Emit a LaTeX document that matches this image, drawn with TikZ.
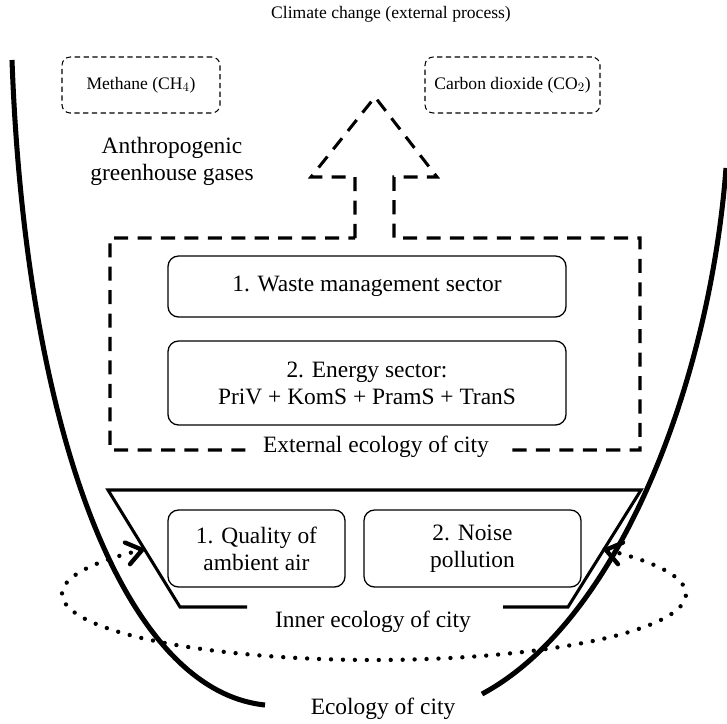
\documentclass[tikz,border=0pt]{standalone}
\usepackage{fontspec}
\setmainfont{Liberation Serif}
\usetikzlibrary{arrows.meta}

\begin{document}
\begin{tikzpicture}[x=0.03cm, y=-0.03cm, font=\fontsize{20}{23}\selectfont, small/.style={font=\fontsize{15}{18}\selectfont}, gas/.style={small, draw, dash pattern=on 4.5pt off 3pt, line width=0.9pt, rounded corners=7pt, minimum height=1.68cm}, sector/.style={draw, line width=1.1pt, rounded corners=9pt, align=center, minimum height=2.52cm}, frame/.style={line width=2.6pt, dash pattern=on 12pt off 8pt}, city/.style={line width=4.3pt}, cycle/.style={line width=3.7pt, line cap=round, dash pattern=on 0pt off 10.2pt, {Straight Barb[length=13pt,width=19pt,line cap=round]}-{Straight Barb[length=13pt,width=19pt,line cap=round]}}, note/.style={align=center, inner sep=1pt}]

\useasboundingbox (0,0) rectangle (727,723);
\node[note, small] (climate) at (391,14) {Climate change (external process)};
\node[gas, minimum width=4.74cm] (ch4) at (141,85) {Methane (CH$_4$)}; \node[gas, minimum width=5.25cm] (co2) at (512.5,85) {Carbon dioxide (CO$_2$)};
\node[note] (ghg) at (172,161) {Anthropogenic\\greenhouse gases};

\coordinate (SL) at (355,238); \coordinate (SR) at (394,238); \coordinate (TIP) at (375,97);
\draw[frame] (SL)--(355,177)--(311,177)--(TIP)--(437,177)--(394,177)--(SR)--(640,238)--(640,450)--(110,450)--(110,238)--cycle;
\node[sector, minimum width=11.94cm, minimum height=1.83cm] (waste) at (367,286.5) {1. Waste management sector};
\node[sector, minimum width=11.94cm] (energy) at (367,383) {2. Energy sector:\\PriV + KomS + PramS + TranS};
\node[note, fill=white, inner xsep=0.5cm] (extern) at (376,447) {External ecology of city};

\draw[line width=2.6pt] (247,607)--(180,607)--(108,490)--(641,490)--(568,607)--(503,607);
\node[sector, minimum width=5.31cm, minimum height=2.31cm] (air) at (256.5,548.5) {1. Quality of\\ambient air}; \node[sector, minimum width=6.51cm, minimum height=2.31cm] (noise) at (472.5,548.5) {2. Noise\\pollution};
\node[note] (inner) at (373,622) {Inner ecology of city};

\coordinate (L0) at (12,60); \coordinate (L1) at (265,705); \coordinate (R0) at (482,694); \coordinate (R1) at (726,168);
\draw[city] (L0) .. controls (25,420) and (120,690) .. (L1); \draw[city] (R0) .. controls (620,620) and (710,380) .. (R1);
\draw[cycle] plot[domain=-43:223, samples=120] ({374+312*cos(\x)},{594+66*sin(\x)});
\node[note] (ecology) at (383,709) {Ecology of city};
\end{tikzpicture}
\end{document}
